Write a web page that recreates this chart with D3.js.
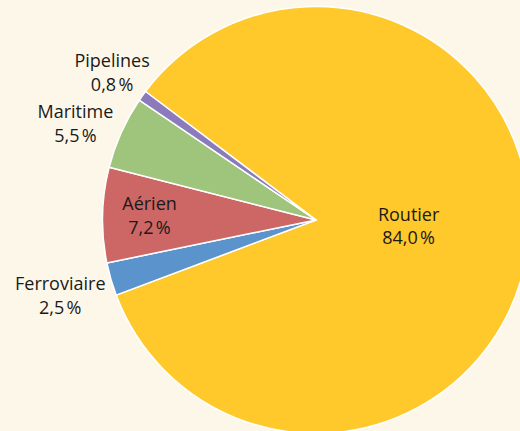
<!DOCTYPE html>
<html>
<head>
<meta charset="utf-8">
<script src="https://cdn.jsdelivr.net/npm/d3@7"></script>
<style>
  html, body { margin: 0; padding: 0; background: #fdf7e9; }
  svg { display: block; }
  text { font-family: "Open Sans", Lato, sans-serif; font-size: 18px; fill: #1a1a1a; }
</style>
</head>
<body>
<svg id="chart" width="520" height="431"></svg>
<script>
const categories = ["Routier", "Ferroviaire", "Aérien", "Maritime", "Pipelines"];
const values = [84.0, 2.5, 7.2, 5.5, 0.8];
const valueLabels = ["84,0\u202F%", "2,5\u202F%", "7,2\u202F%", "5,5\u202F%", "0,8\u202F%"];
const colors = ["#ffc82b", "#5b93cd", "#cc6766", "#9fc47b", "#8b7bbd"];

const width = 520, height = 431;
const cx = 316, cy = 220, R = 213.5;
const startDeg = -53;

// label placement: radius factor relative to R, angle nudge (deg)
const labelLayout = {
  "Routier":     { r: 0.435, nudge: -4 },
  "Ferroviaire": { r: 1.25,  nudge: -0.5 },
  "Aérien":      { r: 0.78,  nudge: 0 },
  "Maritime":    { r: 1.213, nudge: -2.5 },
  "Pipelines":   { r: 1.177, nudge: 0.2 }
};

const data = categories.map((c, i) => ({ cat: c, value: values[i], label: valueLabels[i], color: colors[i] }));

const svg = d3.select("#chart");
const g = svg.append("g").attr("transform", `translate(${cx},${cy})`);

const start = startDeg * Math.PI / 180;
const pie = d3.pie().sort(null).value(d => d.value)
  .startAngle(start).endAngle(start + 2 * Math.PI);
const arcs = pie(data);
const arc = d3.arc().innerRadius(0).outerRadius(R);

g.selectAll("path.slice").data(arcs).join("path")
  .attr("class", "slice")
  .attr("d", arc)
  .attr("fill", d => d.data.color)
  .attr("stroke", "#ffffff")
  .attr("stroke-width", 1.5)
  .attr("stroke-linejoin", "round");

const lbl = g.selectAll("g.lbl").data(arcs).join("g").attr("class", "lbl")
  .attr("transform", d => {
    const L = labelLayout[d.data.cat];
    const a = (d.startAngle + d.endAngle) / 2 + L.nudge * Math.PI / 180;
    const r = L.r * R;
    return `translate(${r * Math.sin(a)},${-r * Math.cos(a)})`;
  });

lbl.append("text").attr("text-anchor", "middle").attr("y", -6).text(d => d.data.cat);
lbl.append("text").attr("text-anchor", "middle").attr("y", 17.5).text(d => d.data.label);
</script>
</body>
</html>
